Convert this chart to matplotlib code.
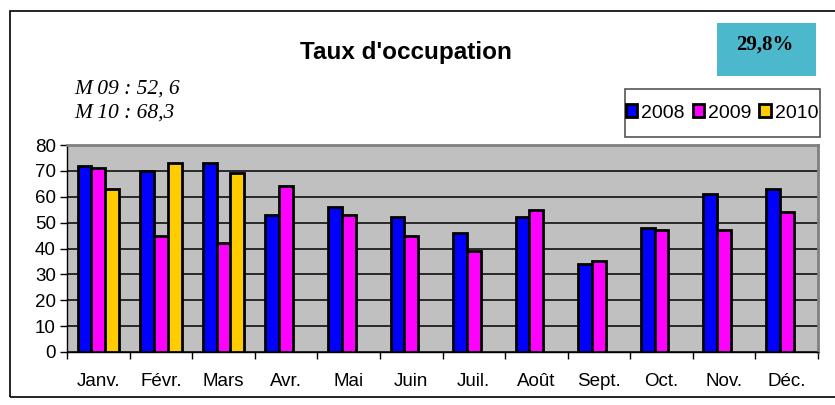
"""
Taux d'occupation, bar chart per month for 2008-2010
"""

import matplotlib
matplotlib.use('Agg')
import matplotlib.pyplot as plt
import numpy as np
from matplotlib.patches import Rectangle

plt.rcParams['font.family'] = 'Liberation Sans'

months = ['Janv.', 'Févr.', 'Mars', 'Avr.', 'Mai', 'Juin',
          'Juil.', 'Août', 'Sept.', 'Oct.', 'Nov.', 'Déc.']
years = ['2008', '2009', '2010']
occ_2008 = [72, 70, 73, 53, 56, 52, 46, 52, 34, 48, 61, 63]
occ_2009 = [71, 45, 42, 64, 53, 45, 39, 55, 35, 47, 47, 54]
occ_2010 = [63, 73, 69]  # only first three months known
y_ticks = [0, 10, 20, 30, 40, 50, 60, 70, 80]
note_lines = ['M 09 : 52, 6', 'M 10 : 68,3']
badge = '29,8%'

colors = ['#0000FF', '#FF00FF', '#FFCC00']
W, H = 835, 405


def fx(px):
    return px / W


def fy(py):
    return 1 - py / H


fig = plt.figure(figsize=(8.35, 4.05), dpi=100)
fig.patch.set_facecolor('white')

# outer chart frame
fig.patches.append(Rectangle((fx(10), fy(397)), fx(840) - fx(10), fy(11) - fy(397),
                             transform=fig.transFigure, fill=False,
                             edgecolor='black', linewidth=1.2))

ax = fig.add_axes([fx(67), fy(352), fx(818) - fx(67), fy(145) - fy(352)])
ax.set_facecolor('#C0C0C0')

x = np.arange(len(months))
width = 0.22
series = [occ_2008, occ_2009, occ_2010]
offsets = [-0.22, 0.0, 0.22]
for vals, off, col, lab in zip(series, offsets, colors, years):
    ax.bar(x[:len(vals)] + off, vals, width=width, color=col,
           edgecolor='black', linewidth=2.0, label=lab, zorder=3)

ax.set_ylim(0, 80)
ax.set_xlim(-0.5, len(months) - 0.5)
ax.set_yticks(y_ticks)
ax.set_yticklabels([str(v) for v in y_ticks], fontsize=13.5)
ax.yaxis.grid(True, color='black', linewidth=1.1, zorder=1)
ax.set_axisbelow(True)

ax.set_xticks(x)
ax.set_xticklabels(months, fontsize=13.5)
ax.set_xticks(np.arange(-0.5, len(months)), minor=True)
ax.tick_params(axis='x', which='major', length=0, pad=15)
ax.tick_params(axis='x', which='minor', length=5, width=1, direction='out')
ax.tick_params(axis='y', length=5, width=1, direction='out', pad=3)

ax.spines['left'].set_color('black')
ax.spines['bottom'].set_color('black')
ax.spines['left'].set_linewidth(1)
ax.spines['bottom'].set_linewidth(1)
for s in ['top', 'right']:
    ax.spines[s].set_color('#808080')
    ax.spines[s].set_linewidth(2)

# title
fig.text(fx(406), fy(53), "Taux d'occupation", fontsize=17.5, fontweight='bold',
         ha='center', va='center')

# italic notes
fig.text(fx(74), fy(89), note_lines[0], fontsize=15.5, style='italic',
         family='Liberation Serif', ha='left', va='center')
fig.text(fx(74), fy(113), note_lines[1], fontsize=15.5, style='italic',
         family='Liberation Serif', ha='left', va='center')

# cyan badge
fig.patches.append(Rectangle((fx(717), fy(76)), fx(816) - fx(717), fy(23) - fy(76),
                             transform=fig.transFigure, facecolor='#4BB9CB',
                             edgecolor='none'))
fig.text(fx(765), fy(45), badge, fontsize=15, fontweight='bold',
         family='Liberation Serif', ha='center', va='center')

# legend box
fig.patches.append(Rectangle((fx(625), fy(137)), fx(820) - fx(625), fy(89) - fy(137),
                             transform=fig.transFigure, facecolor='white',
                             edgecolor='#555555', linewidth=1.2))
fig.legend(loc='center', bbox_to_anchor=(fx(722), fy(113)), ncol=3,
           frameon=False, fontsize=14, handlelength=0.6, handleheight=0.6,
           handletextpad=0.2, columnspacing=0.4, borderpad=0)

fig.savefig('out.png', dpi=100)
